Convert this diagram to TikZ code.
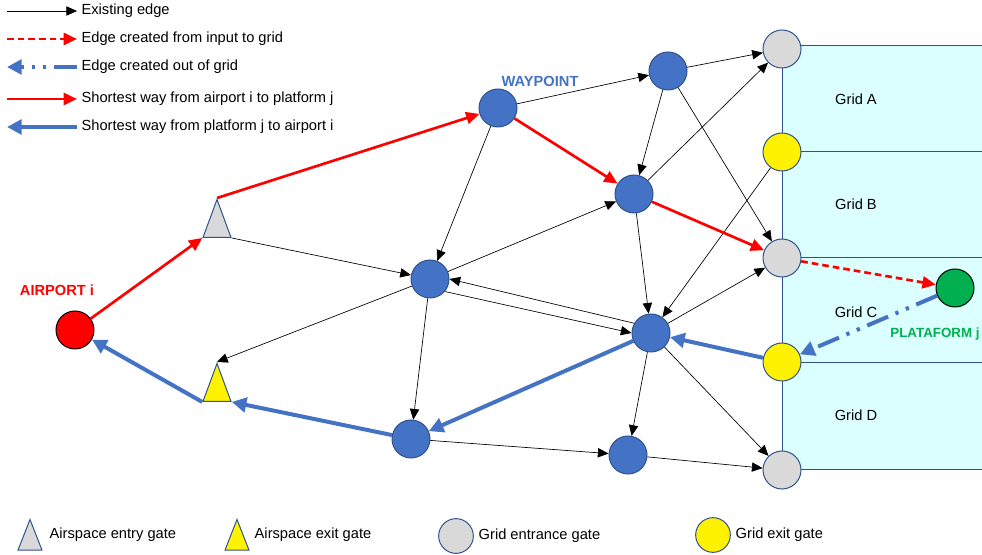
\documentclass[tikz,border=0pt]{standalone}
\usepackage{fontspec}
\setmainfont{Liberation Sans}
\usetikzlibrary{shapes.geometric,arrows.meta,positioning}

\definecolor{wpblue}{HTML}{4472C4}
\definecolor{wpline}{HTML}{2F528F}
\definecolor{gategray}{HTML}{D9D9D9}
\definecolor{gridcyan}{HTML}{DBFFFF}
\definecolor{platgreen}{HTML}{00B050}

\begin{document}
\begin{tikzpicture}[x=0.75pt, y=-0.75pt, font=\fontsize{11}{13}\selectfont,
    wp/.style={circle, fill=wpblue, draw=wpline, line width=0.75pt, minimum size=28.5pt, inner sep=0pt},
    gate/.style={wp, fill=#1},
    tri/.style={isosceles triangle, shape border rotate=90, isosceles triangle apex angle=40,
        isosceles triangle stretches, minimum width=21pt, minimum height=28.5pt,
        inner sep=0pt, draw=wpline, line width=0.75pt, fill=#1},
    link/.style={-{Triangle[length=8pt,width=7pt]}, line width=0.5pt},
    redway/.style={-{Triangle[length=10pt,width=9pt]}, red, line width=2pt},
    reddash/.style={redway, dash pattern=on 5pt off 3pt},
    blueway/.style={-{Triangle[length=11pt,width=11pt]}, wpblue, line width=3pt},
    bluedash/.style={blueway, dash pattern=on 17pt off 6pt on 2.5pt off 6pt on 2.5pt off 6pt},
    tag/.style={font=\fontsize{11}{13}\selectfont\bfseries}]
    \useasboundingbox (0,0) rectangle (982,555);

    \fill[gridcyan] (782,46) rectangle (982,470);
    \foreach \y in {46,152,258,363,470}
        \draw[wpline, line width=0.75pt] (782,\y) -- (982,\y);
    \draw[wpline, line width=0.75pt] (782,46) -- (782,470);
    \foreach[count=\i] \y/\lg in {99/A,204/B,312/C,415/D}
        \node (grid-\i) at (856,\y) {Grid \lg};

    \foreach[count=\i] \x/\y in {498/108,668/71,634/194,430/279,651/333,411/439,628/455}
        \node[wp] (w-\i) at (\x,\y) {};
    \foreach[count=\i] \y/\c in {49/gategray,152/yellow,258/gategray,362/yellow,470/gategray}
        \node[gate=\c] (g-\i) at (782,\y) {};

    \node[circle, fill=red, draw=black, line width=0.75pt, minimum size=28.5pt] (airport) at (75,330) {};
    \node[circle, fill=platgreen, draw=black, line width=0.75pt, minimum size=28.5pt] (plat) at (955,288) {};
    \node[tri=gategray, anchor=apex] (entry) at (217,198) {};
    \node[tri=yellow, anchor=apex] (exit) at (217,362) {};

    \node[tag, text=red] (airport-l) at (57,290) {AIRPORT i};
    \node[tag, text=wpblue] (wp-l) at (540,81) {WAYPOINT};
    \node[tag, text=platgreen, font=\fontsize{10}{12}\selectfont\bfseries] (plat-l) at (935,334) {PLATAFORM j};

    \foreach \a/\b in {w-1/w-2,w-1/w-4,w-2/g-1,w-2/w-3,w-2/g-3,w-3/g-1,w-4/w-3,
        w-4/w-6,w-3/w-5,g-2/w-5,w-5/g-3,w-5/w-7,w-5/g-5,w-6/w-7,w-7/g-5}
        \draw[link] (\a) -- (\b);
    \draw[link] (w-5.150) -- (w-4.0);
    \draw[link] (w-4.-40) -- (w-5.180);
    \draw[link] (entry.right corner) -- (w-4);
    \draw[link] (w-4) -- (exit.apex);

    \draw[redway] (airport) -- (entry.left corner);
    \draw[redway] (entry.apex) -- (w-1);
    \draw[redway] (w-1) -- (w-3);
    \draw[redway] (w-3) -- (g-3);
    \draw[reddash] (g-3) -- (plat);

    \draw[bluedash] (plat) -- (g-4);
    \draw[blueway] (g-4) -- (w-5);
    \draw[blueway] (w-5) -- (w-6);
    \draw[blueway] (w-6) -- (exit.right corner);
    \draw[blueway] (exit.left corner) -- (airport);

    \foreach[count=\i] \y/\st/\s/\e/\txt in {11/link/a/b/Existing edge,
        39/reddash/a/b/Edge created from input to grid,
        67/bluedash/b/a/Edge created out of grid,
        99/redway/a/b/Shortest way from airport i to platform j,
        127/blueway/b/a/Shortest way from platform j to airport i} {
        \coordinate (l-\i-a) at (7,\y);
        \coordinate (l-\i-b) at (77,\y);
        \node[anchor=west, inner sep=1pt] (l-\i-t) at (80,\y) {\txt};
        \draw[\st] (l-\i-\s) -- (l-\i-\e);
    }

    \node[tri=gategray, anchor=apex, minimum width=18pt, minimum height=23pt] (k-1) at (30,518) {};
    \node[anchor=west] (k-1-t) at (45,535) {Airspace entry gate};
    \node[tri=yellow, anchor=apex, minimum width=18pt, minimum height=23pt] (k-2) at (237,518) {};
    \node[anchor=west] (k-2-t) at (250,535) {Airspace exit gate};
    \node[gate=gategray, minimum size=26pt] (k-3) at (456,536) {};
    \node[anchor=west] (k-3-t) at (474,536) {Grid entrance gate};
    \node[gate=yellow, minimum size=26pt] (k-4) at (713,535) {};
    \node[anchor=west] (k-4-t) at (731,535) {Grid exit gate};
\end{tikzpicture}
\end{document}
